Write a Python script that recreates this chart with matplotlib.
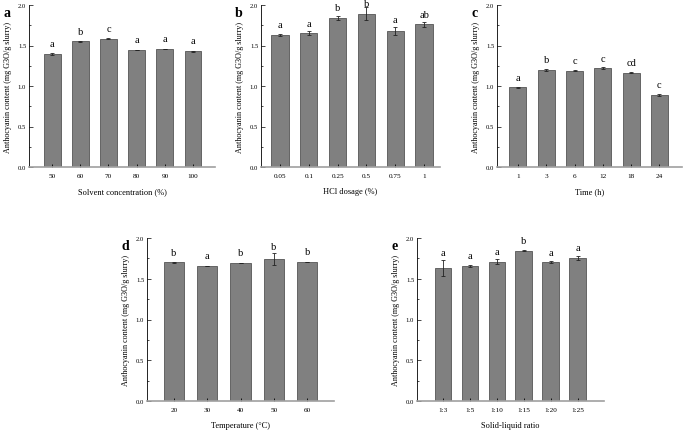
import matplotlib.pyplot as plt
from matplotlib.ticker import MultipleLocator

plt.rcParams['font.family'] = ['Liberation Serif', 'DejaVu Serif']

# panel data
solvent = ['50', '60', '70', '80', '90', '100']
solvent_val = [1.40, 1.55, 1.585, 1.445, 1.455, 1.43]
solvent_err = [0.012, 0.006, 0.01, 0.004, 0.004, 0.006]
solvent_let = ['a', 'b', 'c', 'a', 'a', 'a']

hcl = ['0.05', '0.1', '0.25', '0.5', '0.75', '1']
hcl_val = [1.635, 1.65, 1.845, 1.89, 1.675, 1.76]
hcl_err = [0.012, 0.025, 0.025, 0.08, 0.05, 0.03]
hcl_let = ['a', 'a', 'b', 'b', 'a', 'ab']

time = ['1', '3', '6', '12', '18', '24']
time_val = [0.985, 1.20, 1.19, 1.22, 1.165, 0.89]
time_err = [0.006, 0.01, 0.01, 0.012, 0.01, 0.015]
time_let = ['a', 'b', 'c', 'c', 'cd', 'c']

temp = ['20', '30', '40', '50', '60']
temp_val = [1.70, 1.655, 1.695, 1.74, 1.705]
temp_err = [0.004, 0.004, 0.004, 0.07, 0.004]
temp_let = ['b', 'a', 'b', 'b', 'b']

ratio = ['1:3', '1:5', '1:10', '1:15', '1:20', '1:25']
ratio_val = [1.63, 1.655, 1.71, 1.845, 1.70, 1.755]
ratio_err = [0.1, 0.008, 0.035, 0.01, 0.012, 0.02]
ratio_let = ['a', 'a', 'a', 'b', 'a', 'a']

W, H = 685, 431
fig = plt.figure(figsize=(6.85, 4.31), dpi=100)

panels = [
    # (letter, cats, vals, errs, lets, xlabel, left, right, top, bottom, xlim)
    ('a', solvent, solvent_val, solvent_err, solvent_let, 'Solvent concentration (%)',
     29, 215, 6, 168, (-0.82, 5.78)),
    ('b', hcl, hcl_val, hcl_err, hcl_let, 'HCl dosage (%)',
     261, 440, 6, 168, (-0.66, 5.55)),
    ('c', time, time_val, time_err, time_let, 'Time (h)',
     497, 682, 6, 168, (-0.74, 5.8)),
    ('d', temp, temp_val, temp_err, temp_let, 'Temperature (\u00b0C)',
     147, 334, 239, 402, (-0.8, 4.8)),
    ('e', ratio, ratio_val, ratio_err, ratio_let, 'Solid-liquid ratio',
     417, 604, 239, 402, (-0.95, 5.98)),
]

for letter, cats, vals, errs, lets, xlabel, l, r, t, b, xlim in panels:
    ax = fig.add_axes([l / W, 1 - b / H, (r - l) / W, (b - t) / H])
    x = range(len(cats))
    ax.bar(x, vals, width=0.6, color='#808080', edgecolor='#555555', linewidth=0.6,
           yerr=errs, capsize=1.5, error_kw=dict(elinewidth=0.6, capthick=0.6, ecolor='#222222'))
    for i, (v, e, s) in enumerate(zip(vals, errs, lets)):
        ty = min(max(v + 0.07, v + e + 0.035), 1.96)
        ax.text(i, ty, s, ha='center', va='bottom', fontsize=7.5, clip_on=False)
    ax.set_xlim(*xlim)
    ax.set_ylim(0, 2.0)
    ax.set_xticks(list(x))
    ax.set_xticklabels(cats, fontsize=5.2)
    ax.yaxis.set_major_locator(MultipleLocator(0.5))
    ax.yaxis.set_minor_locator(MultipleLocator(0.25))
    ax.yaxis.set_major_formatter(plt.FormatStrFormatter('%.1f'))
    ax.tick_params(axis='y', which='both', direction='in', labelsize=4.8, width=0.5, pad=2)
    ax.tick_params(axis='y', which='major', length=3)
    ax.tick_params(axis='y', which='minor', length=1.5)
    ax.tick_params(axis='x', direction='in', length=2.5, width=0.6, pad=4)
    ax.spines['top'].set_visible(False)
    ax.spines['right'].set_visible(False)
    ax.spines['left'].set_linewidth(0.6)
    ax.spines['bottom'].set_color('#a0a0a0')
    ax.spines['bottom'].set_linewidth(1.2)
    ax.set_xlabel(xlabel, fontsize=6, labelpad=7)
    ax.set_ylabel('Anthocyanin content (mg G3O/g slurry)', fontsize=5.9, labelpad=4)
    fig.text((l - 26) / W, 1 - (t + 1) / H, letter, fontsize=10, fontweight='bold',
             ha='left', va='top')

fig.savefig('out.png', dpi=100)
